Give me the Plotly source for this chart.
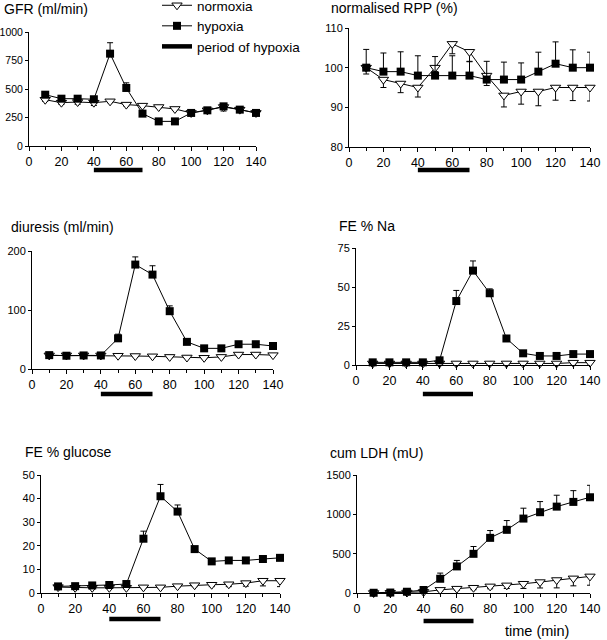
import plotly.graph_objects as go

# ---------------- data ----------------
time_min = [10, 20, 30, 40, 50, 60, 70, 80, 90, 100, 110, 120, 130, 140]
hypoxia_period = [40, 70]

gfr_norm = [406, 380, 386, 380, 392, 363, 354, 342, 325, 290, 313, 342, 319, 290]
gfr_norm_err = [15, 15, 20, 25, 12, 12, 10, 10, 10, 10, 25, 35, 15, 10]
gfr_hyp = [450, 415, 415, 410, 810, 509, 284, 216, 216, 290, 313, 348, 319, 290]
gfr_hyp_err = [15, 12, 12, 12, 96, 45, 12, 10, 10, 15, 15, 15, 15, 15]

rpp_norm = [100, 97, 96, 95, 100, 106, 104, 98, 93, 94, 94, 95, 95, 95]
rpp_norm_err = [1.6, 2.0, 2.3, 2.4, 1.0, 2.5, 2.5, 2.5, 2.9, 3.2, 3.6, 3.2, 3.3, 3.4]
rpp_hyp = [100, 99, 99, 98, 98, 98, 98, 97, 97, 97, 99, 101, 100, 100]
rpp_hyp_err = [4.6, 4.7, 5.0, 5.0, 4.8, 5.0, 3.6, 4.6, 4.4, 4.2, 4.9, 5.5, 4.5, 3.9]

diur_norm = [23, 23, 23, 23, 22.5, 22, 21.5, 20.5, 19.5, 19, 20.5, 24.5, 24.5, 23.5]
diur_norm_err = [1.5, 1.5, 1.5, 1.5, 1.5, 1.5, 1.5, 1.5, 1.5, 1.5, 1.5, 2, 2, 2]
diur_hyp = [23.5, 22.5, 23, 23, 52, 177, 160, 98, 46, 35, 35, 42, 42, 39]
diur_hyp_err = [1.5, 1.5, 1.5, 1.5, 7, 13, 15, 9, 4.5, 3, 3, 4, 4, 4]

na_norm = [1.0, 1.0, 1.0, 1.0, 1.0, 1.0, 1.0, 1.0, 1.0, 1.0, 1.0, 1.0, 1.5, 1.5]
na_norm_err = [1.2, 1.2, 1.2, 1.2, 0.5, 0.5, 0.5, 0.5, 0.5, 0.5, 0.5, 0.5, 0.8, 0.8]
na_hyp = [1.7, 1.7, 1.7, 1.7, 3.0, 41, 60.5, 46, 17, 7.5, 5.8, 5.8, 7.0, 7.0]
na_hyp_err = [0.4, 0.4, 0.4, 0.4, 0.8, 6.8, 6.2, 2.8, 0.8, 0.5, 0.4, 0.4, 0.5, 0.5]

glu_norm = [2.5, 2.2, 2.2, 2.2, 2.2, 2.4, 2.4, 2.9, 3.3, 3.5, 3.7, 4.2, 5.2, 5.2]
glu_norm_err = [0.5, 0.4, 0.4, 0.4, 0.4, 0.4, 0.4, 0.5, 0.6, 0.8, 1.0, 1.3, 2.2, 2.5]
glu_hyp = [2.8, 2.9, 3.2, 3.4, 3.8, 23, 41, 34.5, 18.6, 13.4, 13.8, 13.8, 14.4, 14.9]
glu_hyp_err = [0.5, 0.5, 0.5, 0.6, 0.6, 3.2, 5.0, 2.8, 0.9, 0.5, 0.5, 0.5, 0.7, 1.4]

ldh_norm = [0, 2, 6, 14, 40, 55, 67, 84, 97, 118, 139, 165, 186, 211]
ldh_norm_err = [2, 2, 3, 5, 15, 20, 25, 30, 40, 60, 75, 100, 95, 112]
ldh_hyp = [3, 6, 16, 38, 181, 338, 498, 701, 803, 946, 1027, 1098, 1158, 1217]
ldh_hyp_err = [4, 4, 6, 8, 72, 76, 93, 93, 118, 132, 135, 145, 143, 152]

x_ticks = [0, 20, 40, 60, 80, 100, 120, 140]
x_minor_ticks = [10, 30, 50, 70, 90, 110, 130]

panels = [
    dict(title="GFR (ml/min)", norm=gfr_norm, ne=gfr_norm_err, hyp=gfr_hyp, he=gfr_hyp_err,
         yr=[0, 1000], yt=[0, 250, 500, 750, 1000]),
    dict(title="normalised RPP (%)", norm=rpp_norm, ne=rpp_norm_err, hyp=rpp_hyp, he=rpp_hyp_err,
         yr=[80, 110], yt=[80, 90, 100, 110]),
    dict(title="diuresis (ml/min)", norm=diur_norm, ne=diur_norm_err, hyp=diur_hyp, he=diur_hyp_err,
         yr=[0, 200], yt=[0, 100, 200]),
    dict(title="FE % Na", norm=na_norm, ne=na_norm_err, hyp=na_hyp, he=na_hyp_err,
         yr=[0, 75], yt=[0, 25, 50, 75]),
    dict(title="FE % glucose", norm=glu_norm, ne=glu_norm_err, hyp=glu_hyp, he=glu_hyp_err,
         yr=[0, 50], yt=[0, 10, 20, 30, 40, 50]),
    dict(title="cum LDH (mU)", norm=ldh_norm, ne=ldh_norm_err, hyp=ldh_hyp, he=ldh_hyp_err,
         yr=[0, 1500], yt=[0, 500, 1000, 1500]),
]

# ---------------- layout (pixel geometry) ----------------
W, H = 607, 640
# x_left, x_right, y_bottom, y_top (pixels), bar y, title x, title y, y-tick font size
geom = [
    (29, 256, 146, 32, 170, 2, 9, 10.5),
    (349, 590, 147, 28, 170, 329, 8, 11),
    (32, 273, 369, 251, 394, 9, 227, 11),
    (356, 590, 365, 248, 394, 337, 226, 11),
    (41, 280, 593, 475, 619, 23, 452, 11),
    (357, 590, 593, 475, 621, 328, 453, 11),
]

FONT = "Liberation Sans, Arial, sans-serif"
fig = go.Figure()
layout = dict(width=W, height=H, autosize=False,
              margin=dict(l=0, r=0, t=0, b=0, pad=0, autoexpand=False),
              paper_bgcolor="white", plot_bgcolor="white",
              font=dict(family=FONT, size=11, color="black"),
              showlegend=True)
shapes, annotations = [], []

for i, (p, g) in enumerate(zip(panels, geom)):
    xl, xr, yb, yt_, bary, tx, ty, yfs = g
    n = "" if i == 0 else str(i + 1)
    xa, ya = "x" + n, "y" + n
    layout["xaxis" + n] = dict(
        domain=[xl / W, xr / W], range=[0, 140], anchor=ya, automargin=False,
        tickvals=x_ticks, ticks="outside", ticklen=4, ticklabeloverflow="allow",
        tickcolor="black", showline=True, linecolor="black", linewidth=1,
        showgrid=False, zeroline=False, tickfont=dict(size=12.5),
        minor=dict(tickvals=x_minor_ticks, ticks="outside", ticklen=3, tickcolor="black"),
    )
    layout["yaxis" + n] = dict(
        domain=[1 - yb / H, 1 - yt_ / H], range=p["yr"], anchor=xa, automargin=False,
        tickvals=p["yt"], ticks="outside", ticklen=3, tickcolor="black", ticklabeloverflow="allow",
        showline=True, linecolor="black", linewidth=1, showgrid=False, zeroline=False,
        tickfont=dict(size=yfs),
    )
    fig.add_trace(go.Scatter(
        x=time_min, y=p["norm"], xaxis=xa, yaxis=ya, mode="lines+markers",
        name="normoxia", showlegend=(i == 0), cliponaxis=False,
        line=dict(color="black", width=1),
        marker=dict(symbol="triangle-down", size=9, color="white", line=dict(color="black", width=1)),
        error_y=dict(type="data", symmetric=False, array=[0] * len(time_min), arrayminus=p["ne"],
                     color="black", thickness=1, width=3),
    ))
    fig.add_trace(go.Scatter(
        x=time_min, y=p["hyp"], xaxis=xa, yaxis=ya, mode="lines+markers",
        name="hypoxia", showlegend=(i == 0), cliponaxis=False,
        line=dict(color="black", width=1),
        marker=dict(symbol="square", size=8, color="black"),
        error_y=dict(type="data", symmetric=False, array=p["he"], arrayminus=[0] * len(time_min),
                     color="black", thickness=1, width=3),
    ))
    shapes.append(dict(type="line", xref=xa, yref="paper", x0=hypoxia_period[0], x1=hypoxia_period[1],
                       y0=1 - bary / H, y1=1 - bary / H, line=dict(color="black", width=4.5)))
    annotations.append(dict(text=p["title"], xref="paper", yref="paper", x=tx / W, y=1 - ty / H,
                            xanchor="left", yanchor="middle", showarrow=False,
                            font=dict(size=14, family=FONT)))

fig.add_trace(go.Scatter(x=[None], y=[None], mode="lines", name="period of hypoxia",
                         line=dict(color="black", width=4.5)))

annotations.append(dict(text="time (min)", xref="paper", yref="paper", x=503 / W, y=1 - 631 / H,
                        xanchor="left", yanchor="middle", showarrow=False,
                        font=dict(size=14.5, family=FONT)))

layout["shapes"] = shapes
layout["annotations"] = annotations
layout["legend"] = dict(x=157 / W, y=1 + 10 / H, xanchor="left", yanchor="top", bgcolor="rgba(0,0,0,0)",
                        font=dict(size=13.5, family=FONT), itemwidth=30, tracegroupgap=0,
                        borderwidth=0)
fig.update_layout(**layout)
fig.write_html("out.html", config={"displayModeBar": False},
               post_script="document.body.style.margin='0';document.body.style.overflow='hidden';")
